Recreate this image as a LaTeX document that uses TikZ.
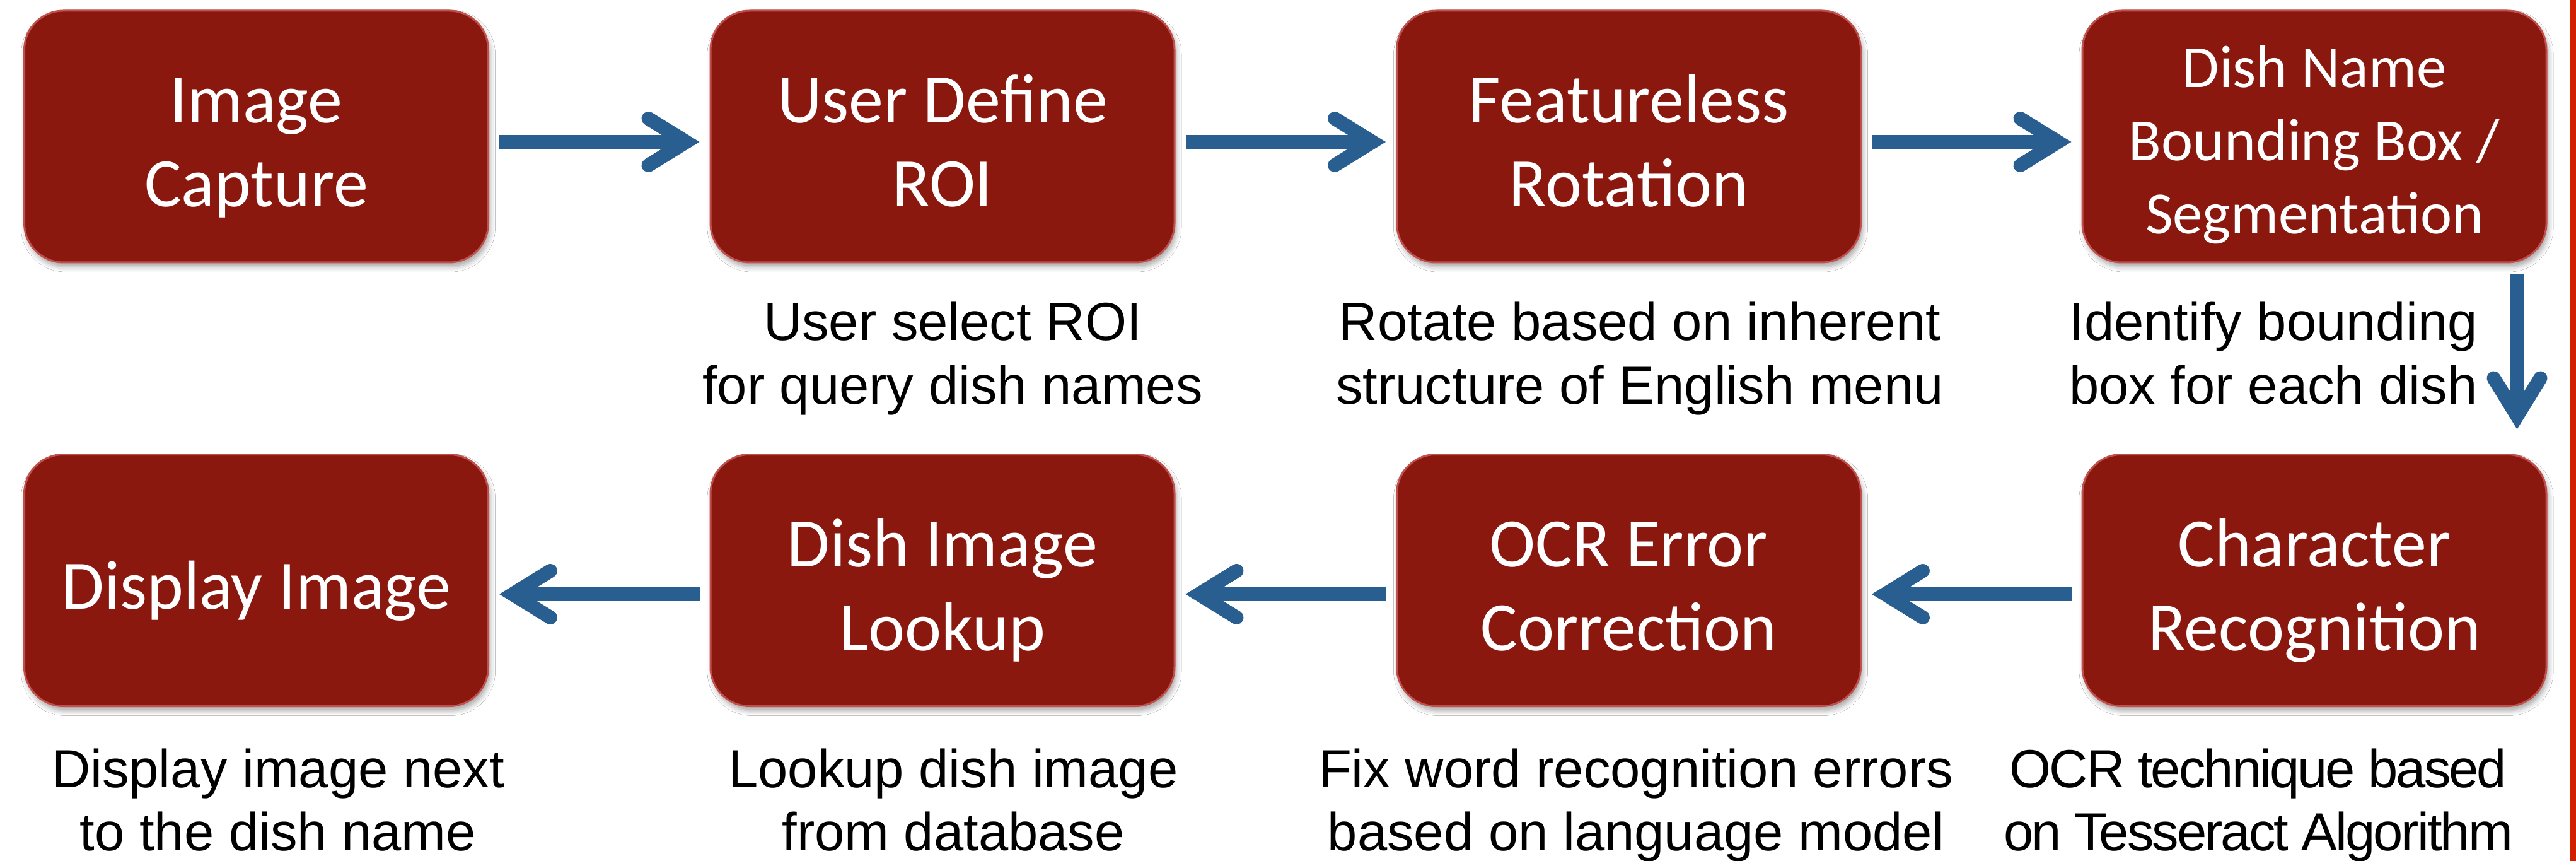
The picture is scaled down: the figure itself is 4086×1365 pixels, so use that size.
\documentclass[tikz,border=0pt]{standalone}
\usepackage{fontspec}
\setmainfont{Liberation Sans}
\newfontfamily\boxfont{Carlito}
\usetikzlibrary{arrows.meta,shadows.blur,calc}

\definecolor{boxred}{HTML}{8A180E}
\definecolor{boxedge}{HTML}{C0504D}
\definecolor{flowblue}{HTML}{295E91}
\definecolor{edgered}{HTML}{D02000}

\tikzset{
  stage/.style={rectangle, rounded corners=6.2mm, fill=boxred, draw=boxedge,
    line width=0.3mm, minimum width=73.6mm, minimum height=39.9mm, inner sep=0pt,
    text=white,
    blur shadow={shadow xshift=0.3mm, shadow yshift=-0.7mm,
      shadow blur radius=0.8mm, shadow opacity=35},
    font=\boxfont\fontsize{31.3pt}{37.84pt}\selectfont},
  two lines/.style={text height=10mm, text depth=14.3mm},
  one line/.style={text height=10mm, text depth=1mm},
  three lines/.style={font=\boxfont\fontsize{27.03pt}{33pt}\selectfont,
    text height=10mm, text depth=25.6mm},
  note/.style={anchor=base, inner sep=0pt, text=black,
    font=\fontsize{24.18pt}{28.73pt}\selectfont},
  flow/.style={draw=flowblue, line width=2.2mm,
    -{Straight Barb[length=6mm, width=7.4mm, line cap=round, line join=miter]}},
}

\begin{document}
\begin{tikzpicture}[x=0.1mm, y=-0.1mm]
  \useasboundingbox (0,0) rectangle (4086,1365);
  \fill[white] (0,0) rectangle (4086,1365);

  % processing stages, top row left to right, bottom row right to left
  \node[stage, two lines]   (b1) at (406.5,216.5) {\begin{tabular}[t]{@{}c@{}}Image\\Capture\end{tabular}};
  \node[stage, two lines]   (b2) at (1495,216.5)  {\begin{tabular}[t]{@{}c@{}}User Define\\ROI\end{tabular}};
  \node[stage, two lines]   (b3) at (2583.5,216.5) {\begin{tabular}[t]{@{}c@{}}Featureless\\Rotation\end{tabular}};
  \node[stage, three lines] (b4) at (3671,216.5)  {\begin{tabular}[t]{@{}c@{}}Dish Name\\Bounding Box /\\Segmentation\end{tabular}};
  \node[stage, one line]    (b5) at (406.5,920)   {\begin{tabular}[t]{@{}c@{}}Display Image\end{tabular}};
  \node[stage, two lines]   (b6) at (1495,920)    {\begin{tabular}[t]{@{}c@{}}Dish Image\\Lookup\end{tabular}};
  \node[stage, two lines]   (b7) at (2583.5,920)  {\begin{tabular}[t]{@{}c@{}}OCR Error\\Correction\end{tabular}};
  \node[stage, two lines]   (b8) at (3671,920)    {\begin{tabular}[t]{@{}c@{}}Character\\Recognition\end{tabular}};

  % descriptions under the stages
  \node[note] (n2) at (1511,540)  {\begin{tabular}[t]{@{}c@{}}User select ROI\\for query dish names\end{tabular}};
  \node[note] (n3) at (2601,540)  {\begin{tabular}[t]{@{}c@{}}Rotate based on inherent\\structure of English menu\end{tabular}};
  \node[note] (n4) at (3606,540)  {\begin{tabular}[t]{@{}c@{}}Identify bounding\\box for each dish\end{tabular}};
  \node[note] (n5) at (441,1248)  {\begin{tabular}[t]{@{}c@{}}Display image next\\to the dish name\end{tabular}};
  \node[note] (n6) at (1512,1248) {\begin{tabular}[t]{@{}c@{}}Lookup dish image\\from database\end{tabular}};
  \node[note] (n7) at (2595,1248) {\begin{tabular}[t]{@{}c@{}}Fix word recognition errors\\based on language model\end{tabular}};
  \node[note] (n8) at (3582,1248) {\addfontfeatures{LetterSpace=-3.5}\begin{tabular}[t]{@{}c@{}}OCR technique based\\on Tesseract Algorithm\end{tabular}};

  % flow arrows
  \draw[flow] ([xshift=1.6mm,yshift=-0.85mm]b1.east) -- ([xshift=-1.6mm,yshift=-0.85mm]b2.west);
  \draw[flow] ([xshift=1.6mm,yshift=-0.85mm]b2.east) -- ([xshift=-1.6mm,yshift=-0.85mm]b3.west);
  \draw[flow] ([xshift=1.6mm,yshift=-0.85mm]b3.east) -- ([xshift=-1.6mm,yshift=-0.85mm]b4.west);
  \draw[flow] ([xshift=-4.8mm,yshift=-1.75mm]b4.south east) -- ([xshift=-4.8mm,yshift=3.85mm]b8.north east);
  \draw[flow] ([xshift=-1.6mm,yshift=-2.2mm]b8.west) -- ([xshift=1.6mm,yshift=-2.2mm]b7.east);
  \draw[flow] ([xshift=-1.6mm,yshift=-2.2mm]b7.west) -- ([xshift=1.6mm,yshift=-2.2mm]b6.east);
  \draw[flow] ([xshift=-1.6mm,yshift=-2.2mm]b6.west) -- ([xshift=1.6mm,yshift=-2.2mm]b5.east);

  % red rule along the right edge
  \fill[edgered] (4077,0) rectangle (4086,1365);
\end{tikzpicture}
\end{document}
